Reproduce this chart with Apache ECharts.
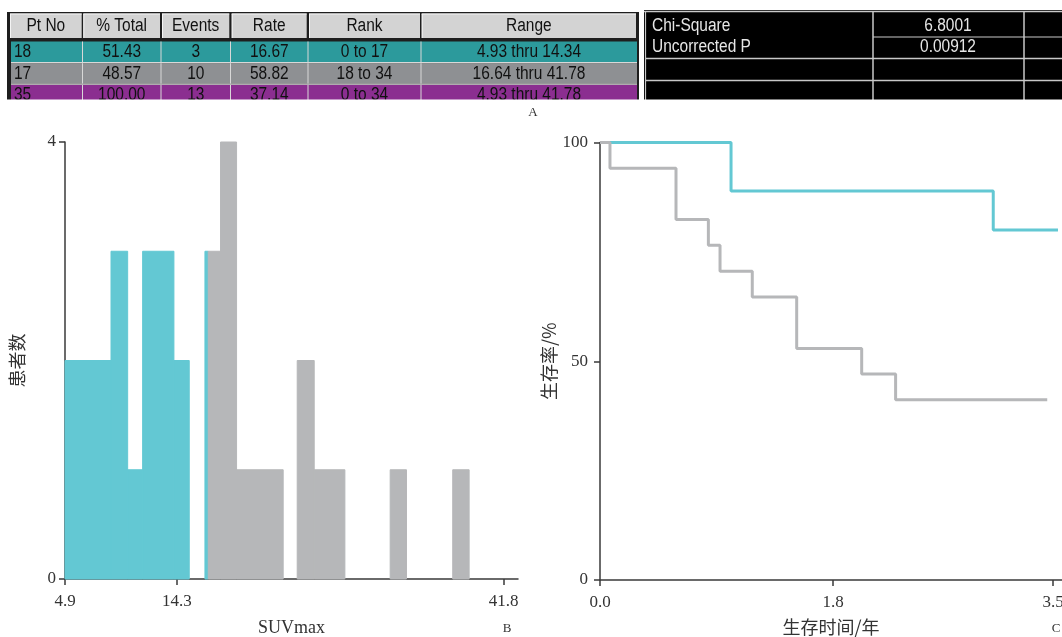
<!DOCTYPE html>
<html><head><meta charset="utf-8">
<script src="https://cdn.jsdelivr.net/npm/echarts@6/dist/echarts.min.js"></script>
<style>html,body{margin:0;padding:0;background:#fff}#c{width:1062px;height:637px}</style>
</head><body><div id="c"></div>
<script>
// ---- Table A data ----
const tableHeaders = ['Pt No', '% Total', 'Events', 'Rate', 'Rank', 'Range'];
const colPtNo = ['18', '17', '35'];
const colTotal = ['51.43', '48.57', '100.00'];
const colEvents = ['3', '10', '13'];
const colRate = ['16.67', '58.82', '37.14'];
const colRank = ['0 to 17', '18 to 34', '0 to 34'];
const colRange = ['4.93 thru 14.34', '16.64 thru 41.78', '4.93 thru 41.78'];
const statNames = ['Chi-Square', 'Uncorrected P'];
const statValues = ['6.8001', '0.00912'];

// ---- Histogram B data: [bin low, bin high, patient count] ----
const lowSuvBins = [[4.9, 8.77, 2], [8.77, 10.17, 3], [10.17, 11.43, 1], [11.43, 14.06, 3], [14.06, 15.35, 2], [16.67, 16.95, 3]];
const highSuvBins = [[16.95, 17.98, 3], [17.98, 19.33, 4], [19.33, 23.25, 1], [24.43, 25.86, 2], [25.86, 28.44, 1], [32.25, 33.62, 1], [37.51, 38.89, 1]];
const suvTicks = [4.9, 14.3, 41.8];

// ---- Survival C data: [time (years), survival %] ----
const kmLow = [[0, 100], [1.012, 88.9], [3.037, 80.0], [3.537, 80.0]];
const kmHigh = [[0, 100], [0.077, 94.1], [0.587, 82.4], [0.837, 76.5], [0.927, 70.6], [1.176, 64.7], [1.519, 52.9], [2.021, 47.1], [2.283, 41.2], [3.454, 41.2]];
const timeTicks = [0.0, 1.8, 3.5];

const CYAN = '#63C8D3', GRAY = '#B6B7B9', AX = '#3a3a3a';
const SERIF = '"Liberation Serif", "Times New Roman", serif';
const CJK = '"Noto Sans CJK SC", sans-serif';

const chart = echarts.init(document.getElementById('c'), null, {renderer: 'canvas'});

// ---------- graphic table ----------
const g = [];
function rect(x, y, w, h, fill, z, stroke, lw) {
  g.push({type: 'rect', silent: true, z: z || 1, shape: {x, y, width: w, height: h},
    style: {fill: fill || 'none', stroke: stroke || null, lineWidth: lw || 0}});
}
function line(x1, y1, x2, y2, color, lw, z) {
  g.push({type: 'line', silent: true, z: z || 2, shape: {x1, y1, x2, y2}, style: {stroke: color, lineWidth: lw}});
}
function txt(x, y, s, fill, align, font, sx, z) {
  g.push({type: 'text', silent: true, z: z || 3, x, y, scaleX: sx || 1,
    style: {text: s, fill, align: align || 'center', verticalAlign: 'middle', font}});
}
const TFONT = '18px "Liberation Sans", Arial, sans-serif';
// frame
rect(7, 12, 632, 90, '#1e1e1e', 1);
const hdrCells = [[10, 81.7], [83.3, 160], [162, 229.3], [231.7, 306.7], [309, 420], [421.7, 636]];
hdrCells.forEach((c, i) => {
  rect(c[0], 13.5, c[1] - c[0], 24.5, '#D3D3D3', 2);
  line(c[0], 14, c[1], 14, '#f4f4f4', 1, 3);
  line(c[0] + 0.5, 14, c[0] + 0.5, 38, '#f4f4f4', 1, 3);
  txt((c[0] + c[1]) / 2, 26, tableHeaders[i], '#111', 'center', TFONT, 0.86, 4);
});
const rowY = [[41.5, 62], [63.2, 83.6], [84.8, 104]];
const rowFill = ['#2C9A9C', '#8E9093', '#8B2E90'];
const colEdges = [11, 82.5, 161, 230.5, 308, 421, 637];
const cols = [colPtNo, colTotal, colEvents, colRate, colRank, colRange];
rowY.forEach((r, ri) => {
  rect(11, r[0], 626, r[1] - r[0], rowFill[ri], 2);
  for (let ci = 0; ci < cols.length; ci++) {
    const x0 = colEdges[ci], x1 = colEdges[ci + 1];
    if (ci > 0) line(x0, r[0], x0, r[1], '#d8d8d8', 1, 3);
    if (ci === 0) txt(14, (r[0] + r[1]) / 2 + 0.5, cols[ci][ri], '#111', 'left', TFONT, 0.86, 4);
    else txt((x0 + x1) / 2, (ri === 2 ? 95.5 : (r[0] + r[1]) / 2 + 0.5), cols[ci][ri], '#111', 'center', TFONT, 0.86, 4);
  }
});
line(11, 62.6, 637, 62.6, '#d8d8d8', 1.2, 3);
line(11, 84.2, 637, 84.2, '#d8d8d8', 1.2, 3);
// black stats table
rect(644, 10, 418, 92, '#000', 1);
line(644, 11.5, 1062, 11.5, '#c8c8c8', 1.5, 2);
line(645.5, 11.5, 645.5, 100, '#c8c8c8', 1.2, 2);
line(873, 11.5, 873, 100, '#c8c8c8', 1.5, 2);
line(1024, 11.5, 1024, 100, '#c8c8c8', 1.5, 2);
line(873, 37, 1062, 37, '#c8c8c8', 1.2, 2);
line(645, 58.5, 1062, 58.5, '#c8c8c8', 1.5, 2);
line(645, 80.5, 1062, 80.5, '#c8c8c8', 1.5, 2);
statNames.forEach((s, i) => {
  const y = i === 0 ? 26.5 : 47.5;
  txt(652, y, s, '#e6e6e6', 'left', TFONT, 0.86, 4);
  txt(948, y, statValues[i], '#e6e6e6', 'center', TFONT, 0.86, 4);
});
// clip the table bottom like the reference crop
rect(0, 99.5, 1062, 6, '#ffffff', 10);
txt(533, 113, 'A', '#333', 'center', '13px ' + SERIF, 1, 11);
txt(507, 629, 'B', '#333', 'center', '13px ' + SERIF, 1, 11);
txt(1056, 629, 'C', '#333', 'center', '13px ' + SERIF, 1, 11);

// ---------- charts ----------
function barRender(color) {
  return function (params, api) {
    const p0 = api.coord([api.value(0), api.value(2)]);
    const p1 = api.coord([api.value(1), 0]);
    return {type: 'rect', shape: {x: p0[0], y: p0[1], width: p1[0] - p0[0], height: p1[1] - p0[1]},
      style: {fill: color, stroke: color, lineWidth: 1}};
  };
}
const axisLineStyle = {lineStyle: {color: AX, width: 1.5}};
const tickStyle = {show: true, length: 6, lineStyle: {color: AX, width: 1.5}};
const labelStyle = {color: '#333', fontFamily: SERIF, fontSize: 17};

const option = {
  animation: false,
  backgroundColor: '#fff',
  graphic: g,
  grid: [
    {left: 65, top: 142, width: 453, height: 437, containLabel: false, outerBoundsMode: 'none'},
    {left: 600, top: 142.5, width: 462, height: 437.5, containLabel: false, outerBoundsMode: 'none'}
  ],
  xAxis: [
    {gridIndex: 0, type: 'value', min: 4.9, max: 43.0,
      axisLine: axisLineStyle,
      axisTick: Object.assign({customValues: suvTicks}, tickStyle),
      axisLabel: Object.assign({customValues: suvTicks, margin: 14, formatter: v => v.toFixed(1)}, labelStyle),
      splitLine: {show: false},
      name: 'SUVmax', nameLocation: 'middle', nameGap: 40,
      nameTextStyle: {fontFamily: SERIF, fontSize: 18, color: '#333'}},
    {gridIndex: 1, type: 'value', min: 0, max: 3.568,
      axisLine: axisLineStyle,
      axisTick: Object.assign({customValues: timeTicks}, tickStyle),
      axisLabel: Object.assign({customValues: timeTicks, margin: 14, formatter: v => v.toFixed(1)}, labelStyle),
      splitLine: {show: false},
      name: '生存时间/年', nameLocation: 'middle', nameGap: 38,
      nameTextStyle: {fontFamily: CJK, fontSize: 18, color: '#333'}}
  ],
  yAxis: [
    {gridIndex: 0, type: 'value', min: 0, max: 4, interval: 4,
      axisLine: Object.assign({show: true}, axisLineStyle),
      axisTick: tickStyle,
      axisLabel: Object.assign({margin: 9}, labelStyle),
      splitLine: {show: false},
      name: '患者数', nameLocation: 'middle', nameGap: 39,
      nameTextStyle: {fontFamily: CJK, fontSize: 18, color: '#333'}},
    {gridIndex: 1, type: 'value', min: 0, max: 100, interval: 50,
      axisLine: Object.assign({show: true}, axisLineStyle),
      axisTick: tickStyle,
      axisLabel: Object.assign({margin: 12}, labelStyle),
      splitLine: {show: false},
      name: '生存率/%', nameLocation: 'middle', nameGap: 40,
      nameTextStyle: {fontFamily: CJK, fontSize: 18, color: '#333'}}
  ],
  series: [
    {type: 'custom', xAxisIndex: 0, yAxisIndex: 0, data: lowSuvBins, renderItem: barRender(CYAN),
      encode: {x: [0, 1], y: 2}, z: 1},
    {type: 'custom', xAxisIndex: 0, yAxisIndex: 0, data: highSuvBins, renderItem: barRender(GRAY),
      encode: {x: [0, 1], y: 2}, z: 1},
    {type: 'line', xAxisIndex: 1, yAxisIndex: 1, data: kmLow, step: 'end', symbol: 'none',
      lineStyle: {color: CYAN, width: 3}, z: 2},
    {type: 'line', xAxisIndex: 1, yAxisIndex: 1, data: kmHigh, step: 'end', symbol: 'none',
      lineStyle: {color: GRAY, width: 3}, z: 3}
  ]
};
chart.setOption(option);
</script></body></html>
